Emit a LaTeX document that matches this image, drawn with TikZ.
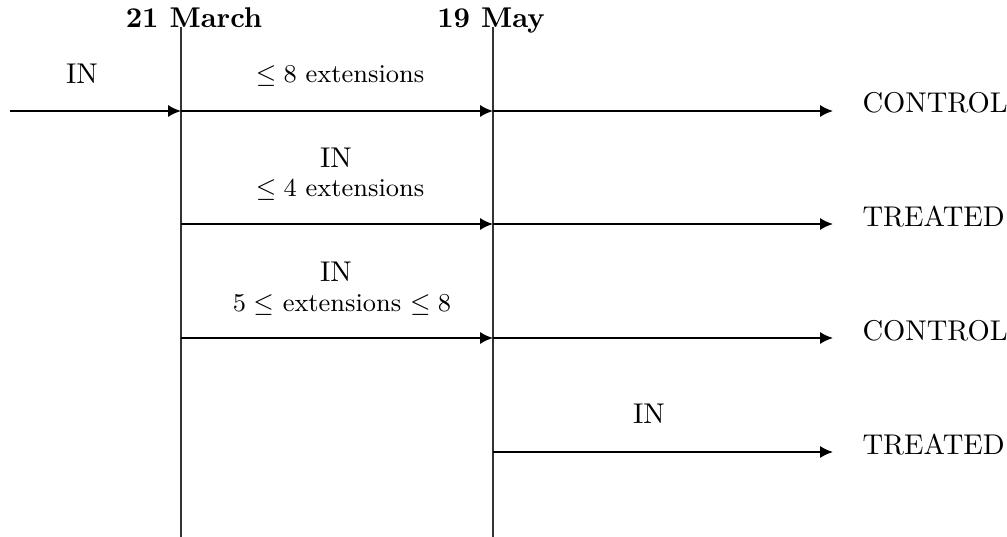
\documentclass[tikz,border=0pt]{standalone}
\usepackage{amsmath,amssymb}
\usepackage{tikz}
\usetikzlibrary{arrows.meta}

\begin{document}
\begin{tikzpicture}[x=0.35pt, y=-0.35pt]
  \tikzset{
    flow/.style={line width=0.6pt, -{Latex[length=4.5pt, width=4.2pt]}},
    dateline/.style={line width=0.7pt, black!80},
    lbl/.style={anchor=base, inner sep=0pt},
    ext/.style={anchor=base, inner sep=0pt, font=\small},
    grp/.style={anchor=base west, inner sep=0pt}
  }
  \useasboundingbox (0,0) rectangle (1007,537);

  % Date lines
  \coordinate (marTop) at (181,27);
  \coordinate (marBot) at (181,537);
  \coordinate (mayTop) at (493,27);
  \coordinate (mayBot) at (493,537);
  \draw[dateline] (marTop) -- (marBot);
  \draw[dateline] (mayTop) -- (mayBot);
  \node[lbl, font=\bfseries] (mar) at (194,28) {21 March};
  \node[lbl, font=\bfseries] (may) at (491,28) {19 May};

  % Row 1: control
  \coordinate (r1s) at (10,111);
  \coordinate (r1a) at (181,111);
  \coordinate (r1b) at (493,111);
  \coordinate (r1e) at (833,111);
  \draw[flow] (r1s) -- (r1a);
  \draw[flow] (r1a) -- (r1b);
  \draw[flow] (r1b) -- (r1e);
  \node[lbl] (in1) at (82,84) {IN};
  \node[ext] (ext1) at (340,83) {$\leq 8$ extensions};
  \node[grp] (out1) at (862,113) {CONTROL};

  % Row 2: treated
  \coordinate (r2a) at (181,224);
  \coordinate (r2b) at (493,224);
  \coordinate (r2e) at (833,224);
  \draw[flow] (r2a) -- (r2b);
  \draw[flow] (r2b) -- (r2e);
  \node[lbl] (in2) at (336,168) {IN};
  \node[ext] (ext2) at (340,197) {$\leq 4$ extensions};
  \node[grp] (out2) at (862,226) {TREATED};

  % Row 3: control
  \coordinate (r3a) at (181,338);
  \coordinate (r3b) at (493,338);
  \coordinate (r3e) at (833,338);
  \draw[flow] (r3a) -- (r3b);
  \draw[flow] (r3b) -- (r3e);
  \node[lbl] (in3) at (336,282) {IN};
  \node[ext] (ext3) at (342,311) {$5 \leq$ extensions $\leq 8$};
  \node[grp] (out3) at (862,340) {CONTROL};

  % Row 4: treated
  \coordinate (r4b) at (493,452);
  \coordinate (r4e) at (833,452);
  \draw[flow] (r4b) -- (r4e);
  \node[lbl] (in4) at (649,423) {IN};
  \node[grp] (out4) at (862,454) {TREATED};
\end{tikzpicture}
\end{document}
